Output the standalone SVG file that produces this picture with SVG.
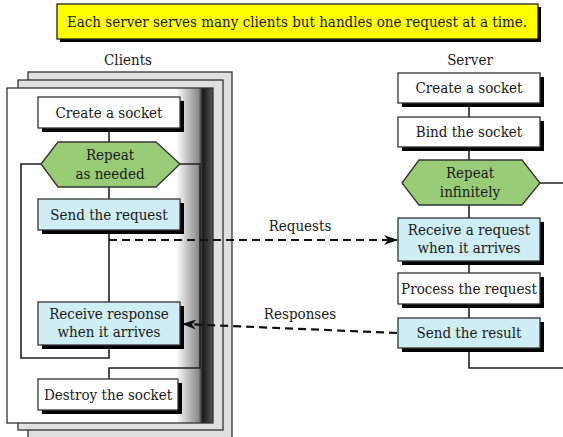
<svg xmlns="http://www.w3.org/2000/svg" width="563" height="437" viewBox="0 0 563 437">
<style>
text{font-family:"DejaVu Serif Condensed","DejaVu Serif",serif;font-stretch:condensed;font-size:15px;fill:#1a1a1a;text-anchor:middle}
.sh{fill:#000}
.box{stroke:#333;stroke-width:1.3}
.w{fill:#fff}
.b{fill:#cfedf4}
.g{fill:#99cc77;stroke:#333;stroke-width:1.3}
.ln{fill:none;stroke:#222;stroke-width:1.6}
.page{fill:#e0e0e0;stroke:#333;stroke-width:1.3}
.dash{fill:none;stroke:#111;stroke-width:2.2;stroke-dasharray:8,5}
</style>
<defs>
<linearGradient id="pg" x1="7" y1="0" x2="213" y2="0" gradientUnits="userSpaceOnUse">
<stop offset="0" stop-color="#fff"/>
<stop offset="0.82" stop-color="#fff"/>
<stop offset="0.93" stop-color="#8a8a8a"/>
<stop offset="0.95" stop-color="#1a1a1a"/>
<stop offset="1" stop-color="#555"/>
</linearGradient>
<marker id="ah" markerWidth="14" markerHeight="10" refX="13" refY="5" orient="auto" markerUnits="userSpaceOnUse">
<path d="M0,0 L14,5 L0,10 L4,5 Z" fill="#111"/>
</marker>
</defs>
<rect width="563" height="437" fill="#fff"/>

<g id="title">
<rect x="60" y="7" width="481" height="35" class="sh"/>
<rect x="57" y="4" width="481" height="35" fill="#ffff00" stroke="#222" stroke-width="1.3"/>
<text x="297" y="27">Each server serves many clients but handles one request at a time.</text>
</g>

<g id="clients">
<text x="128" y="65">Clients</text>
<rect x="28" y="72" width="204" height="380" class="page"/>
<rect x="18" y="80" width="205" height="350" class="page"/>
<rect x="7" y="88" width="206" height="335" fill="url(#pg)" stroke="#333" stroke-width="1.3"/>
</g>

<g id="connectors">
<path class="ln" d="M109,128 V142 M109,187 V199 M109,230 V302"/>
<path class="ln" d="M41,164 H21 V358 H109 V345"/>
<path class="ln" d="M180,164 H200 V368 H109 V379"/>
<path class="ln" d="M469,103 V117 M469,147 V160 M469,205 V218 M469,261 V273 M469,304 V318"/>
<path class="ln" d="M540,183 H563 M469,348 V368 H563"/>
<path class="dash" d="M109,240 H397" marker-end="url(#ah)"/>
<path class="dash" d="M397,333 L183,324" marker-end="url(#ah)"/>
<text x="300" y="231">Requests</text>
<text x="300" y="319">Responses</text>
</g>

<g id="c-create">
<rect x="42" y="101" width="142" height="31" class="sh"/>
<rect x="38" y="97" width="142" height="31" class="box w"/>
<text x="109" y="118">Create a socket</text>
</g>
<g id="c-repeat">
<polygon points="41,164 58,142 156,142 180,164 156,187 58,187" class="g"/>
<text x="110" y="160">Repeat</text>
<text x="110" y="179">as needed</text>
</g>
<g id="c-send">
<rect x="42" y="203" width="142" height="31" class="sh"/>
<rect x="38" y="199" width="142" height="31" class="box b"/>
<text x="109" y="220">Send the request</text>
</g>
<g id="c-receive">
<rect x="42" y="306" width="142" height="43" class="sh"/>
<rect x="38" y="302" width="142" height="43" class="box b"/>
<text x="109" y="319">Receive response</text>
<text x="109" y="337">when it arrives</text>
</g>
<g id="c-destroy">
<rect x="42" y="383" width="140" height="31" class="sh"/>
<rect x="38" y="379" width="140" height="31" class="box w"/>
<text x="108" y="400">Destroy the socket</text>
</g>

<g id="server">
<text x="470" y="65">Server</text>
</g>
<g id="s-create">
<rect x="402" y="77" width="142" height="30" class="sh"/>
<rect x="398" y="73" width="142" height="30" class="box w"/>
<text x="469" y="93">Create a socket</text>
</g>
<g id="s-bind">
<rect x="402" y="121" width="142" height="30" class="sh"/>
<rect x="398" y="117" width="142" height="30" class="box w"/>
<text x="469" y="137">Bind the socket</text>
</g>
<g id="s-repeat">
<polygon points="402,183 419,160 522,160 540,183 522,205 419,205" class="g"/>
<text x="470" y="178">Repeat</text>
<text x="470" y="197">infinitely</text>
</g>
<g id="s-receive">
<rect x="402" y="222" width="142" height="43" class="sh"/>
<rect x="398" y="218" width="142" height="43" class="box b"/>
<text x="469" y="235">Receive a request</text>
<text x="469" y="253">when it arrives</text>
</g>
<g id="s-process">
<rect x="402" y="277" width="142" height="31" class="sh"/>
<rect x="398" y="273" width="142" height="31" class="box w"/>
<text x="469" y="294">Process the request</text>
</g>
<g id="s-send">
<rect x="402" y="322" width="142" height="30" class="sh"/>
<rect x="398" y="318" width="142" height="30" class="box b"/>
<text x="469" y="338">Send the result</text>
</g>
</svg>
